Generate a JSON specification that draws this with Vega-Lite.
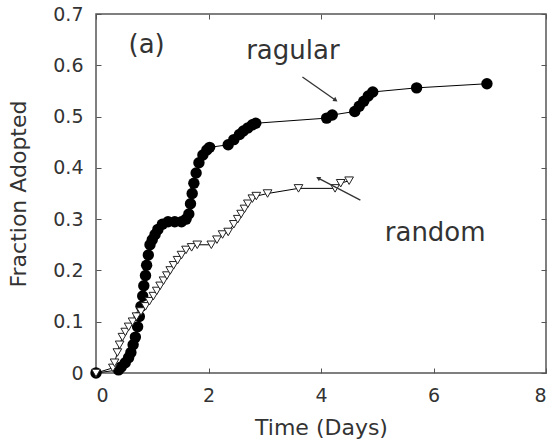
{
  "$schema": "https://vega.github.io/schema/vega-lite/v6.json",
  "width": 450,
  "height": 359,
  "autosize": "none",
  "padding": {"left": 96, "top": 14, "right": 9, "bottom": 68},
  "background": "white",
  "config": {
    "font": "DejaVu Sans",
    "view": {"stroke": "#555", "strokeWidth": 1.5},
    "axis": {
      "grid": false,
      "domain": false,
      "tickSize": -5,
      "tickColor": "#555",
      "labelFont": "DejaVu Sans",
      "labelFontSize": 19,
      "labelColor": "#333",
      "titleFont": "DejaVu Sans",
      "titleFontSize": 22,
      "titleFontWeight": "normal",
      "titleColor": "#333"
    }
  },
  "datasets": {
    "curves": [
      {"series": "regular", "t": 0, "f": 0},
      {"series": "regular", "t": 0.4, "f": 0.006},
      {"series": "regular", "t": 0.45, "f": 0.012},
      {"series": "regular", "t": 0.52, "f": 0.02},
      {"series": "regular", "t": 0.58, "f": 0.03},
      {"series": "regular", "t": 0.62, "f": 0.04},
      {"series": "regular", "t": 0.66, "f": 0.055},
      {"series": "regular", "t": 0.7, "f": 0.07},
      {"series": "regular", "t": 0.74, "f": 0.09},
      {"series": "regular", "t": 0.77, "f": 0.11},
      {"series": "regular", "t": 0.8, "f": 0.13},
      {"series": "regular", "t": 0.83, "f": 0.15},
      {"series": "regular", "t": 0.85, "f": 0.17},
      {"series": "regular", "t": 0.88, "f": 0.19},
      {"series": "regular", "t": 0.9, "f": 0.21},
      {"series": "regular", "t": 0.93, "f": 0.23},
      {"series": "regular", "t": 0.96, "f": 0.25},
      {"series": "regular", "t": 1.0, "f": 0.26},
      {"series": "regular", "t": 1.05, "f": 0.27},
      {"series": "regular", "t": 1.1, "f": 0.28},
      {"series": "regular", "t": 1.18, "f": 0.29},
      {"series": "regular", "t": 1.28, "f": 0.295},
      {"series": "regular", "t": 1.4, "f": 0.295},
      {"series": "regular", "t": 1.52, "f": 0.295},
      {"series": "regular", "t": 1.6, "f": 0.3},
      {"series": "regular", "t": 1.65, "f": 0.31},
      {"series": "regular", "t": 1.68, "f": 0.33},
      {"series": "regular", "t": 1.71, "f": 0.35},
      {"series": "regular", "t": 1.74, "f": 0.37},
      {"series": "regular", "t": 1.78, "f": 0.39},
      {"series": "regular", "t": 1.83, "f": 0.41},
      {"series": "regular", "t": 1.9, "f": 0.425},
      {"series": "regular", "t": 1.97, "f": 0.435},
      {"series": "regular", "t": 2.02, "f": 0.44},
      {"series": "regular", "t": 2.35, "f": 0.445},
      {"series": "regular", "t": 2.45, "f": 0.455},
      {"series": "regular", "t": 2.55, "f": 0.465},
      {"series": "regular", "t": 2.62, "f": 0.472},
      {"series": "regular", "t": 2.7, "f": 0.478},
      {"series": "regular", "t": 2.78, "f": 0.484},
      {"series": "regular", "t": 2.84, "f": 0.487},
      {"series": "regular", "t": 4.1, "f": 0.497},
      {"series": "regular", "t": 4.2, "f": 0.503},
      {"series": "regular", "t": 4.6, "f": 0.51},
      {"series": "regular", "t": 4.68, "f": 0.52},
      {"series": "regular", "t": 4.76, "f": 0.53},
      {"series": "regular", "t": 4.84, "f": 0.54},
      {"series": "regular", "t": 4.92, "f": 0.548},
      {"series": "regular", "t": 5.7, "f": 0.556},
      {"series": "regular", "t": 6.95, "f": 0.564},
      {"series": "random", "t": 0, "f": 0},
      {"series": "random", "t": 0.3, "f": 0.01},
      {"series": "random", "t": 0.33, "f": 0.02},
      {"series": "random", "t": 0.38, "f": 0.04},
      {"series": "random", "t": 0.42, "f": 0.055},
      {"series": "random", "t": 0.47, "f": 0.07},
      {"series": "random", "t": 0.52, "f": 0.08},
      {"series": "random", "t": 0.58, "f": 0.09},
      {"series": "random", "t": 0.65, "f": 0.1},
      {"series": "random", "t": 0.72, "f": 0.11},
      {"series": "random", "t": 0.8, "f": 0.12},
      {"series": "random", "t": 0.88, "f": 0.13},
      {"series": "random", "t": 0.95, "f": 0.14},
      {"series": "random", "t": 1.02, "f": 0.15},
      {"series": "random", "t": 1.08, "f": 0.16},
      {"series": "random", "t": 1.14, "f": 0.17},
      {"series": "random", "t": 1.2, "f": 0.18},
      {"series": "random", "t": 1.26, "f": 0.19},
      {"series": "random", "t": 1.32, "f": 0.2},
      {"series": "random", "t": 1.38, "f": 0.21},
      {"series": "random", "t": 1.45, "f": 0.22},
      {"series": "random", "t": 1.52, "f": 0.23},
      {"series": "random", "t": 1.6, "f": 0.24},
      {"series": "random", "t": 1.7, "f": 0.245},
      {"series": "random", "t": 1.8, "f": 0.25},
      {"series": "random", "t": 2.05, "f": 0.25},
      {"series": "random", "t": 2.15, "f": 0.26},
      {"series": "random", "t": 2.25, "f": 0.27},
      {"series": "random", "t": 2.35, "f": 0.275},
      {"series": "random", "t": 2.45, "f": 0.29},
      {"series": "random", "t": 2.52, "f": 0.3},
      {"series": "random", "t": 2.58, "f": 0.31},
      {"series": "random", "t": 2.64, "f": 0.32},
      {"series": "random", "t": 2.7, "f": 0.33},
      {"series": "random", "t": 2.78, "f": 0.34},
      {"series": "random", "t": 2.85, "f": 0.345},
      {"series": "random", "t": 3.05, "f": 0.35},
      {"series": "random", "t": 3.6, "f": 0.36},
      {"series": "random", "t": 4.25, "f": 0.36},
      {"series": "random", "t": 4.35, "f": 0.37},
      {"series": "random", "t": 4.5, "f": 0.375}
    ],
    "labels": [
      {"t": 0.9, "f": 0.64, "label": "(a)"},
      {"t": 3.5, "f": 0.628, "label": "ragular"},
      {"t": 6.03, "f": 0.273, "label": "random"}
    ],
    "arrows": [
      {"name": "ragular", "t": 3.67, "f": 0.577, "t2": 4.26, "f2": 0.532},
      {"name": "random", "t": 4.7, "f": 0.337, "t2": 3.95, "f2": 0.38}
    ]
  },
  "layer": [
    {
      "data": {"name": "curves"},
      "mark": {"type": "line", "color": "black", "strokeWidth": 1},
      "encoding": {
        "x": {"field": "t", "type": "quantitative", "scale": {"domain": [0, 8], "nice": false},
              "axis": {"title": "Time (Days)", "values": [0, 2, 4, 6, 8], "labelPadding": 18, "titlePadding": 12}},
        "y": {"field": "f", "type": "quantitative", "scale": {"domain": [0, 0.7], "nice": false},
              "axis": {"title": "Fraction Adopted", "values": [0, 0.1, 0.2, 0.3, 0.4, 0.5, 0.6, 0.7], "format": "~g", "labelPadding": 18, "titlePadding": 22}},
        "detail": {"field": "series"}
      }
    },
    {
      "data": {"name": "curves"},
      "transform": [{"filter": "datum.series === 'regular'"}],
      "mark": {"type": "point", "shape": "circle", "filled": true, "color": "black", "size": 130, "opacity": 1},
      "encoding": {
        "x": {"field": "t", "type": "quantitative", "axis": null},
        "y": {"field": "f", "type": "quantitative", "axis": null}
      }
    },
    {
      "data": {"name": "curves"},
      "transform": [{"filter": "datum.series === 'random'"}],
      "mark": {"type": "point", "shape": "triangle-down", "filled": false, "fill": "white", "fillOpacity": 1, "stroke": "#222", "strokeWidth": 1, "size": 75, "opacity": 1},
      "encoding": {
        "x": {"field": "t", "type": "quantitative", "axis": null},
        "y": {"field": "f", "type": "quantitative", "axis": null}
      }
    },
    {
      "data": {"name": "labels"},
      "mark": {"type": "text", "fontSize": 26, "color": "#333", "font": "DejaVu Sans"},
      "encoding": {
        "x": {"field": "t", "type": "quantitative", "axis": null},
        "y": {"field": "f", "type": "quantitative", "axis": null},
        "text": {"field": "label"}
      }
    },
    {
      "data": {"name": "arrows"},
      "mark": {"type": "rule", "color": "#333", "strokeWidth": 1.3},
      "encoding": {
        "x": {"field": "t", "type": "quantitative", "axis": null},
        "y": {"field": "f", "type": "quantitative", "axis": null},
        "x2": {"field": "t2"},
        "y2": {"field": "f2"}
      }
    },
    {
      "data": {"name": "arrows"},
      "transform": [{"filter": "datum.name === 'ragular'"}],
      "mark": {"type": "point", "shape": "triangle-up", "filled": true, "color": "#333", "size": 25, "angle": 125, "opacity": 1},
      "encoding": {
        "x": {"field": "t2", "type": "quantitative", "axis": null},
        "y": {"field": "f2", "type": "quantitative", "axis": null}
      }
    },
    {
      "data": {"name": "arrows"},
      "transform": [{"filter": "datum.name === 'random'"}],
      "mark": {"type": "point", "shape": "triangle-up", "filled": true, "color": "#333", "size": 25, "angle": 298, "opacity": 1},
      "encoding": {
        "x": {"field": "t2", "type": "quantitative", "axis": null},
        "y": {"field": "f2", "type": "quantitative", "axis": null}
      }
    },
    {
      "data": {"name": "labels"},
      "mark": {"type": "text", "opacity": 0},
      "encoding": {
        "x": {"field": "t", "type": "quantitative",
              "axis": {"orient": "top", "values": [0, 2, 4, 6, 8], "labels": false, "title": null}},
        "y": {"field": "f", "type": "quantitative",
              "axis": {"orient": "right", "values": [0, 0.1, 0.2, 0.3, 0.4, 0.5, 0.6, 0.7], "labels": false, "title": null}},
        "text": {"field": "label"}
      }
    }
  ],
  "resolve": {"axis": {"x": "independent", "y": "independent"}}
}
